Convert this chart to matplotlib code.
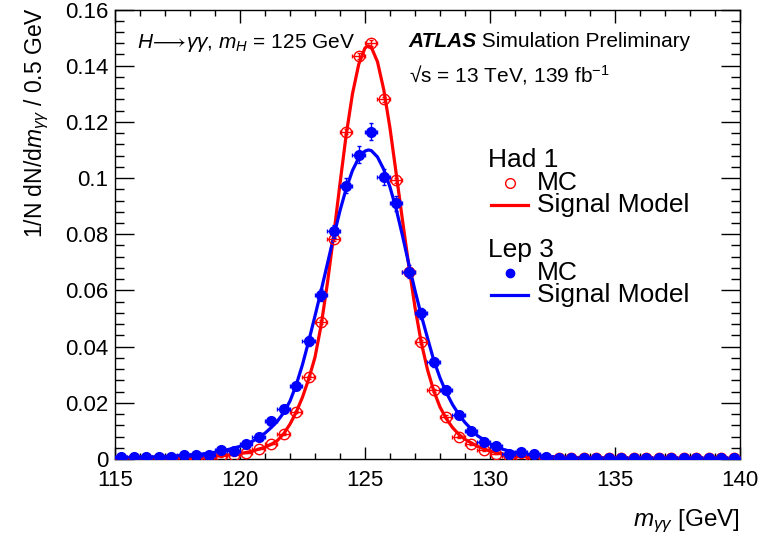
import numpy as np
import matplotlib
matplotlib.use("Agg")
import matplotlib.pyplot as plt

# 0.5 GeV bins from 115 to 140 GeV
bin_lo, bin_hi, bin_w = 115.0, 140.0, 0.5

had_mc = [0.0002, 0.0002, 0.0002, 0.0003, 0.0003, 0.0004, 0.0005, 0.0007, 0.0009, 0.0013,
          0.0022, 0.0036, 0.0055, 0.0090, 0.0167, 0.0291, 0.0487, 0.0783, 0.1165, 0.1435,
          0.1480, 0.1280, 0.0992, 0.0666, 0.0416, 0.0244, 0.0151, 0.0079, 0.0052, 0.0032,
          0.0019, 0.0010, 0.0007, 0.0005, 0.0004, 0.0003, 0.0003, 0.0002, 0.0002, 0.0002,
          0.0002, 0.0002, 0.0002, 0.0002, 0.0002, 0.0002, 0.0002, 0.0002, 0.0002, 0.0002]
had_err = [0.0002] * 12 + [0.0003, 0.0004, 0.0005, 0.0006, 0.0007, 0.0008, 0.0009, 0.0010,
                           0.0010, 0.0010, 0.0009, 0.0008, 0.0007, 0.0006, 0.0005, 0.0004] + [0.0002] * 22

lep_mc = [0.0007, 0.0006, 0.0006, 0.0008, 0.0008, 0.0014, 0.0015, 0.0014, 0.0031, 0.0030,
          0.0055, 0.0078, 0.0134, 0.0177, 0.0261, 0.0421, 0.0584, 0.0810, 0.0973, 0.1083,
          0.1165, 0.1005, 0.0910, 0.0667, 0.0518, 0.0344, 0.0245, 0.0156, 0.0098, 0.0059,
          0.0048, 0.0018, 0.0026, 0.0018, 0.0007, 0.0005, 0.0005, 0.0005, 0.0005, 0.0005,
          0.0005, 0.0005, 0.0005, 0.0005, 0.0005, 0.0005, 0.0005, 0.0005, 0.0005, 0.0005]
lep_err = ([0.0004] * 8 + [0.0006] * 4 + [0.0010, 0.0012, 0.0014, 0.0018,
           0.0020, 0.0022, 0.0026, 0.0030, 0.0030, 0.0028, 0.0026, 0.0022, 0.0020, 0.0016,
           0.0014, 0.0012, 0.0010, 0.0008, 0.0007, 0.0005, 0.0005, 0.0005] + [0.0003] * 16)

# signal model curves
model_x = [115, 116, 117, 118, 118.5, 119, 119.5, 120, 120.5, 121,
           121.25, 121.5, 121.75, 122, 122.25, 122.5, 122.75, 123, 123.25, 123.5,
           123.75, 124, 124.25, 124.5, 124.75, 125, 125.13, 125.25, 125.5, 125.75,
           126, 126.25, 126.5, 126.75, 127, 127.25, 127.5, 127.75, 128, 128.25,
           128.5, 128.75, 129, 129.5, 130, 130.5, 131, 132, 133, 135, 140]
had_model = [0.0002, 0.0003, 0.0004, 0.0006, 0.0008, 0.0010, 0.0014, 0.0019, 0.0028, 0.0042,
             0.0052, 0.0066, 0.0090, 0.0124, 0.0167, 0.0220, 0.0285, 0.0362, 0.0478, 0.0628,
             0.0797, 0.0980, 0.1155, 0.1300, 0.1405, 0.1463, 0.1471, 0.1466, 0.1414, 0.1315,
             0.1178, 0.1015, 0.0850, 0.0690, 0.0540, 0.0415, 0.0318, 0.0243, 0.0185, 0.0144,
             0.0112, 0.0088, 0.0070, 0.0045, 0.0028, 0.0018, 0.0012, 0.0006, 0.0004, 0.0002, 0.0001]
lep_model = [0.0004, 0.0006, 0.0009, 0.0014, 0.0018, 0.0024, 0.0033, 0.0045, 0.0063, 0.0092,
             0.0112, 0.0135, 0.0165, 0.0206, 0.0264, 0.0336, 0.0420, 0.0509, 0.0601, 0.0696,
             0.0792, 0.0884, 0.0963, 0.1027, 0.1072, 0.1096, 0.1100, 0.1098, 0.1075, 0.1031,
             0.0968, 0.0889, 0.0795, 0.0695, 0.0600, 0.0512, 0.0431, 0.0352, 0.0289, 0.0237,
             0.0194, 0.0159, 0.0130, 0.0083, 0.0054, 0.0035, 0.0023, 0.0011, 0.0006, 0.0003, 0.0002]

RED, BLUE = "#ff0000", "#0000ff"

plt.rcParams.update({
    "font.family": ["Liberation Sans", "DejaVu Sans"],
    "mathtext.fontset": "custom",
    "mathtext.rm": "Liberation Sans",
    "mathtext.it": "Liberation Sans:italic",
    "mathtext.bf": "Liberation Sans:bold",
})

centers = np.arange(bin_lo + bin_w / 2, bin_hi, bin_w)

fig = plt.figure(figsize=(7.62, 5.40), dpi=100)
ax = fig.add_axes([0.1509, 0.15, 0.8202, 0.8324])

ax.plot(model_x, had_model, color=RED, lw=2.3, zorder=2)
ax.plot(model_x, lep_model, color=BLUE, lw=2.3, zorder=2)
ax.errorbar(centers, had_mc, xerr=bin_w / 2, yerr=had_err, fmt="o", ms=7.5, mfc="none", mec=RED,
            mew=1.0, ecolor=RED, elinewidth=1.0, capsize=1.5, zorder=3)
ax.errorbar(centers, lep_mc, xerr=bin_w / 2, yerr=lep_err, fmt="o", ms=7, mfc=BLUE, mec=BLUE,
            ecolor=BLUE, elinewidth=1.0, capsize=1.5, zorder=4)

ax.set_xlim(bin_lo, bin_hi)
ax.set_ylim(0, 0.16)
ax.set_xticks(np.arange(115, 141, 5))
ax.set_xticks(np.arange(115, 141, 1), minor=True)
ax.set_yticks(np.arange(0, 0.161, 0.02))
ax.set_yticks(np.arange(0, 0.161, 0.004), minor=True)
ax.set_yticklabels(["0", "0.02", "0.04", "0.06", "0.08", "0.1", "0.12", "0.14", "0.16"])
ax.tick_params(which="both", direction="in", top=True, right=True, labelsize=16, width=1)
ax.tick_params(axis="x", which="major", length=9, pad=8)
ax.tick_params(axis="x", which="minor", length=4.5)
ax.tick_params(axis="y", which="major", length=13.5, pad=5)
ax.tick_params(axis="y", which="minor", length=6.5)
for s in ax.spines.values():
    s.set_linewidth(1.0)

ax.set_xlabel(r"$m_{\gamma\gamma}$ [GeV]", fontsize=17.5, ha="right", x=1.0, labelpad=12)
ax.set_ylabel(r"1/N dN/d$m_{\gamma\gamma}$ / 0.5 GeV", fontsize=16.5, ha="right", y=1.005,
              labelpad=10)

# labels
ax.text(0.035, 0.926, r"$H\!\longrightarrow\!\gamma\gamma$, $m_{H}$ = 125 GeV",
        transform=ax.transAxes, fontsize=15, va="center")
t = ax.text(0.469, 0.928, "ATLAS", transform=ax.transAxes, fontsize=15, va="center",
            weight="bold", style="italic")
ax.annotate(" Simulation Preliminary", xy=(1, 0), xycoords=t, fontsize=15, va="bottom")
ax.text(0.470, 0.854, "\u221as = 13 TeV, 139 fb$^{-1}$", transform=ax.transAxes,
        fontsize=15, va="center")

# legend drawn by hand, ROOT style
tr = ax.transAxes
for y0, col, filled, title in [(0.665, RED, False, "Had 1"), (0.465, BLUE, True, "Lep 3")]:
    ax.text(0.597, y0, title, transform=tr, fontsize=19, va="center")
    ax.plot([0.632], [y0 - 0.051], "o", ms=6 if filled else 7, transform=tr, color=col,
            mfc=col if filled else "none", mew=1.0, clip_on=False)
    ax.text(0.675, y0 - 0.051, "MC", transform=tr, fontsize=19, va="center")
    ax.plot([0.602, 0.661], [y0 - 0.1, y0 - 0.1], transform=tr, color=col, lw=2.3, clip_on=False)
    ax.text(0.675, y0 - 0.1, "Signal Model", transform=tr, fontsize=19, va="center")

fig.savefig("out.png", dpi=100)
